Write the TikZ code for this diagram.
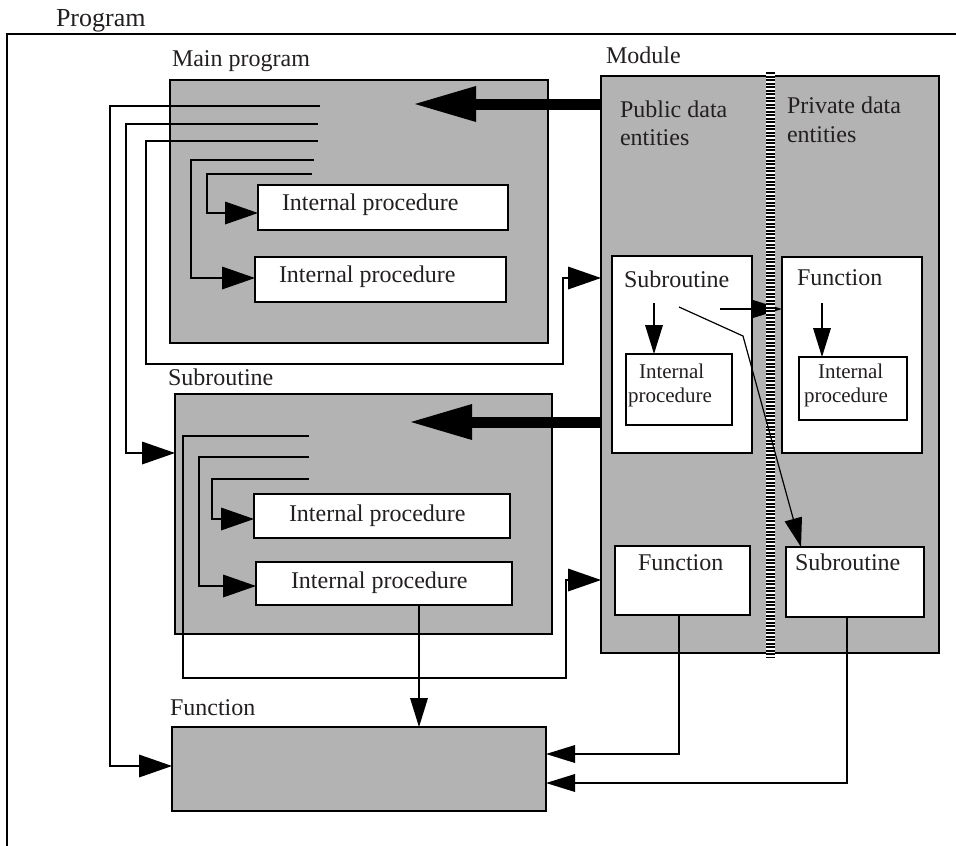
\documentclass[tikz,border=0pt]{standalone}
\usepackage{fontspec}
\setmainfont{Liberation Serif}
\usetikzlibrary{arrows.meta}
\definecolor{panel}{RGB}{179,179,179}
\definecolor{ink}{RGB}{35,31,32}
\begin{document}
\begin{tikzpicture}[x=1pt,y=-1pt,
  every node/.style={font=\fontsize{24}{28}\selectfont, text=ink},
  graybox/.style={draw, fill=panel, line width=2.5pt, inner sep=0pt, outer sep=0pt, anchor=north west},
  whitebox/.style={draw, fill=white, line width=2.5pt, inner sep=0pt, outer sep=0pt, anchor=north west},
  lbl/.style={anchor=base west, inner sep=0pt, outer sep=0pt},
  small/.style={font=\fontsize{21}{24}\selectfont},
  wire/.style={line width=2.6pt},
  callarrow/.style={wire, -{Triangle[length=33pt,width=23pt,line width=0pt]}},
  smallarrow/.style={wire, -{Triangle[length=29pt,width=18pt,line width=0pt]}},
  thinarrow/.style={line width=1.2pt, -{Triangle[length=29pt,width=18pt,line width=0pt]}},
  usearrow/.style={line width=11pt, -{Triangle[length=61pt,width=36pt,line width=0pt]}},
]
\useasboundingbox (0,0) rectangle (956,846);

% outer program frame (top and left edges only)
\coordinate (frameR) at (956,34);
\coordinate (frameC) at (7,34);
\coordinate (frameB) at (7,846);
\draw[wire] (frameR) -- (frameC) -- (frameB);
\node[lbl, font=\fontsize{26}{30}\selectfont] (tProgram) at (56,26) {Program};

% shaded program units
\node[graybox, minimum width=378pt, minimum height=263pt] (main) at (170,80) {};
\node[graybox, minimum width=377pt, minimum height=240pt] (sub) at (175,394) {};
\node[graybox, minimum width=338pt, minimum height=577pt] (mod) at (601,76) {};
\node[graybox, minimum width=374pt, minimum height=84pt] (fun) at (172,727) {};

\node[lbl] (tMain) at (172,66) {Main program};
\node[lbl] (tSub) at (168,385) {Subroutine};
\node[lbl] (tModule) at (606,63) {Module};
\node[lbl] (tFun) at (170,715) {Function};

% internal procedures of the main program and the subroutine
\node[whitebox, minimum width=250pt, minimum height=45pt] (mip1) at (258,185) {};
\node[whitebox, minimum width=251pt, minimum height=45pt] (mip2) at (255,257) {};
\node[whitebox, minimum width=256pt, minimum height=44pt] (sip1) at (254,494) {};
\node[whitebox, minimum width=256pt, minimum height=43pt] (sip2) at (256,562) {};
\node[lbl] (tmip1) at (282,210) {Internal procedure};
\node[lbl] (tmip2) at (279,282) {Internal procedure};
\node[lbl] (tsip1) at (289,521) {Internal procedure};
\node[lbl] (tsip2) at (291,588) {Internal procedure};

% module contents
\node[lbl] (tPub1) at (620,117) {Public data};
\node[lbl] (tPub2) at (620,145) {entities};
\node[lbl] (tPriv1) at (787,113) {Private data};
\node[lbl] (tPriv2) at (787,142) {entities};

\node[whitebox, minimum width=140pt, minimum height=197pt] (msub) at (612,256) {};
\node[whitebox, minimum width=140pt, minimum height=196pt] (mfun) at (782,257) {};
\node[whitebox, minimum width=106pt, minimum height=71pt] (msip) at (626,354) {};
\node[whitebox, minimum width=108pt, minimum height=63pt] (mfip) at (799,357) {};
\node[whitebox, minimum width=135pt, minimum height=69pt] (pfun) at (615,546) {};
\node[whitebox, minimum width=138pt, minimum height=70pt] (psub) at (786,547) {};

\node[lbl] (tmsub) at (624,287) {Subroutine};
\node[lbl] (tmfun) at (797,285) {Function};
\node[lbl, small] (tmsip1) at (639,378) {Internal};
\node[lbl, small] (tmsip2) at (628,402) {procedure};
\node[lbl, small] (tmfip1) at (818,378) {Internal};
\node[lbl, small] (tmfip2) at (804,402) {procedure};
\node[lbl] (tpfun) at (638,570) {Function};
\node[lbl] (tpsub) at (795,570) {Subroutine};

% call lines leaving the main program
\coordinate (m1) at (320,106);
\coordinate (m2) at (318,124);
\coordinate (m3) at (318,141);
\coordinate (m4) at (314,160);
\coordinate (m5) at (312,174);
\draw[callarrow] (m1) -- (110,106) -- (110,766) -- (fun.west |- 0,766);
\draw[callarrow] (m2) -- (126,124) -- (126,453) -- (sub.west |- 0,453);
\draw[callarrow] (m3) -- (146,141) -- (146,364) -- (563,364) -- (563,278) -- (mod.west |- 0,278);
\draw[callarrow] (m4) -- (191,160) -- (191,278) -- (mip2.west |- 0,278);
\draw[callarrow] (m5) -- (207,174) -- (207,213) -- (mip1.west |- 0,213);

% call lines leaving the subroutine
\coordinate (s1) at (309,436);
\coordinate (s2) at (309,457);
\coordinate (s3) at (309,479);
\draw[callarrow] (s1) -- (183,436) -- (183,678) -- (566,678) -- (566,580) -- (mod.west |- 0,580);
\draw[callarrow] (s2) -- (199,457) -- (199,586) -- (sip2.west |- 0,586);
\draw[callarrow] (s3) -- (212,479) -- (212,519) -- (sip1.west |- 0,519);
\draw[smallarrow] (sip2.south -| 419,0) -- (fun.north -| 419,0);

% use association from the module
\coordinate (use1) at (415,104);
\coordinate (use2) at (411,422);
\draw[usearrow] (mod.west |- 0,104) -- (use1);
\draw[usearrow] (mod.west |- 0,422) -- (use2);

% calls inside the module
\coordinate (c1) at (654,303);
\coordinate (c2) at (822,303);
\coordinate (c3) at (720,309);
\draw[smallarrow] (c1) -- (msip.north -| 654,0);
\draw[smallarrow] (c2) -- (mfip.north -| 822,0);
\draw[smallarrow] (c3) -- (mfun.west |- 0,309);

% calls from module procedures to the external function
\draw[smallarrow] (pfun.south -| 679,0) -- (679,754) -- (fun.east |- 0,754);
\draw[smallarrow] (psub.south -| 847,0) -- (847,783) -- (fun.east |- 0,783);

% public / private divider
\coordinate (divT) at (770,72);
\coordinate (divB) at (770,657);
\draw[line width=9pt, white] (divT) -- (divB);
\draw[line width=9pt, dash pattern=on 2pt off 1.5pt] (divT) -- (divB);

% subroutine to private subroutine
\coordinate (c4) at (679,307);
\draw[thinarrow] (c4) -- (743,336) -- (psub.north -| 801,0);
\end{tikzpicture}
\end{document}
